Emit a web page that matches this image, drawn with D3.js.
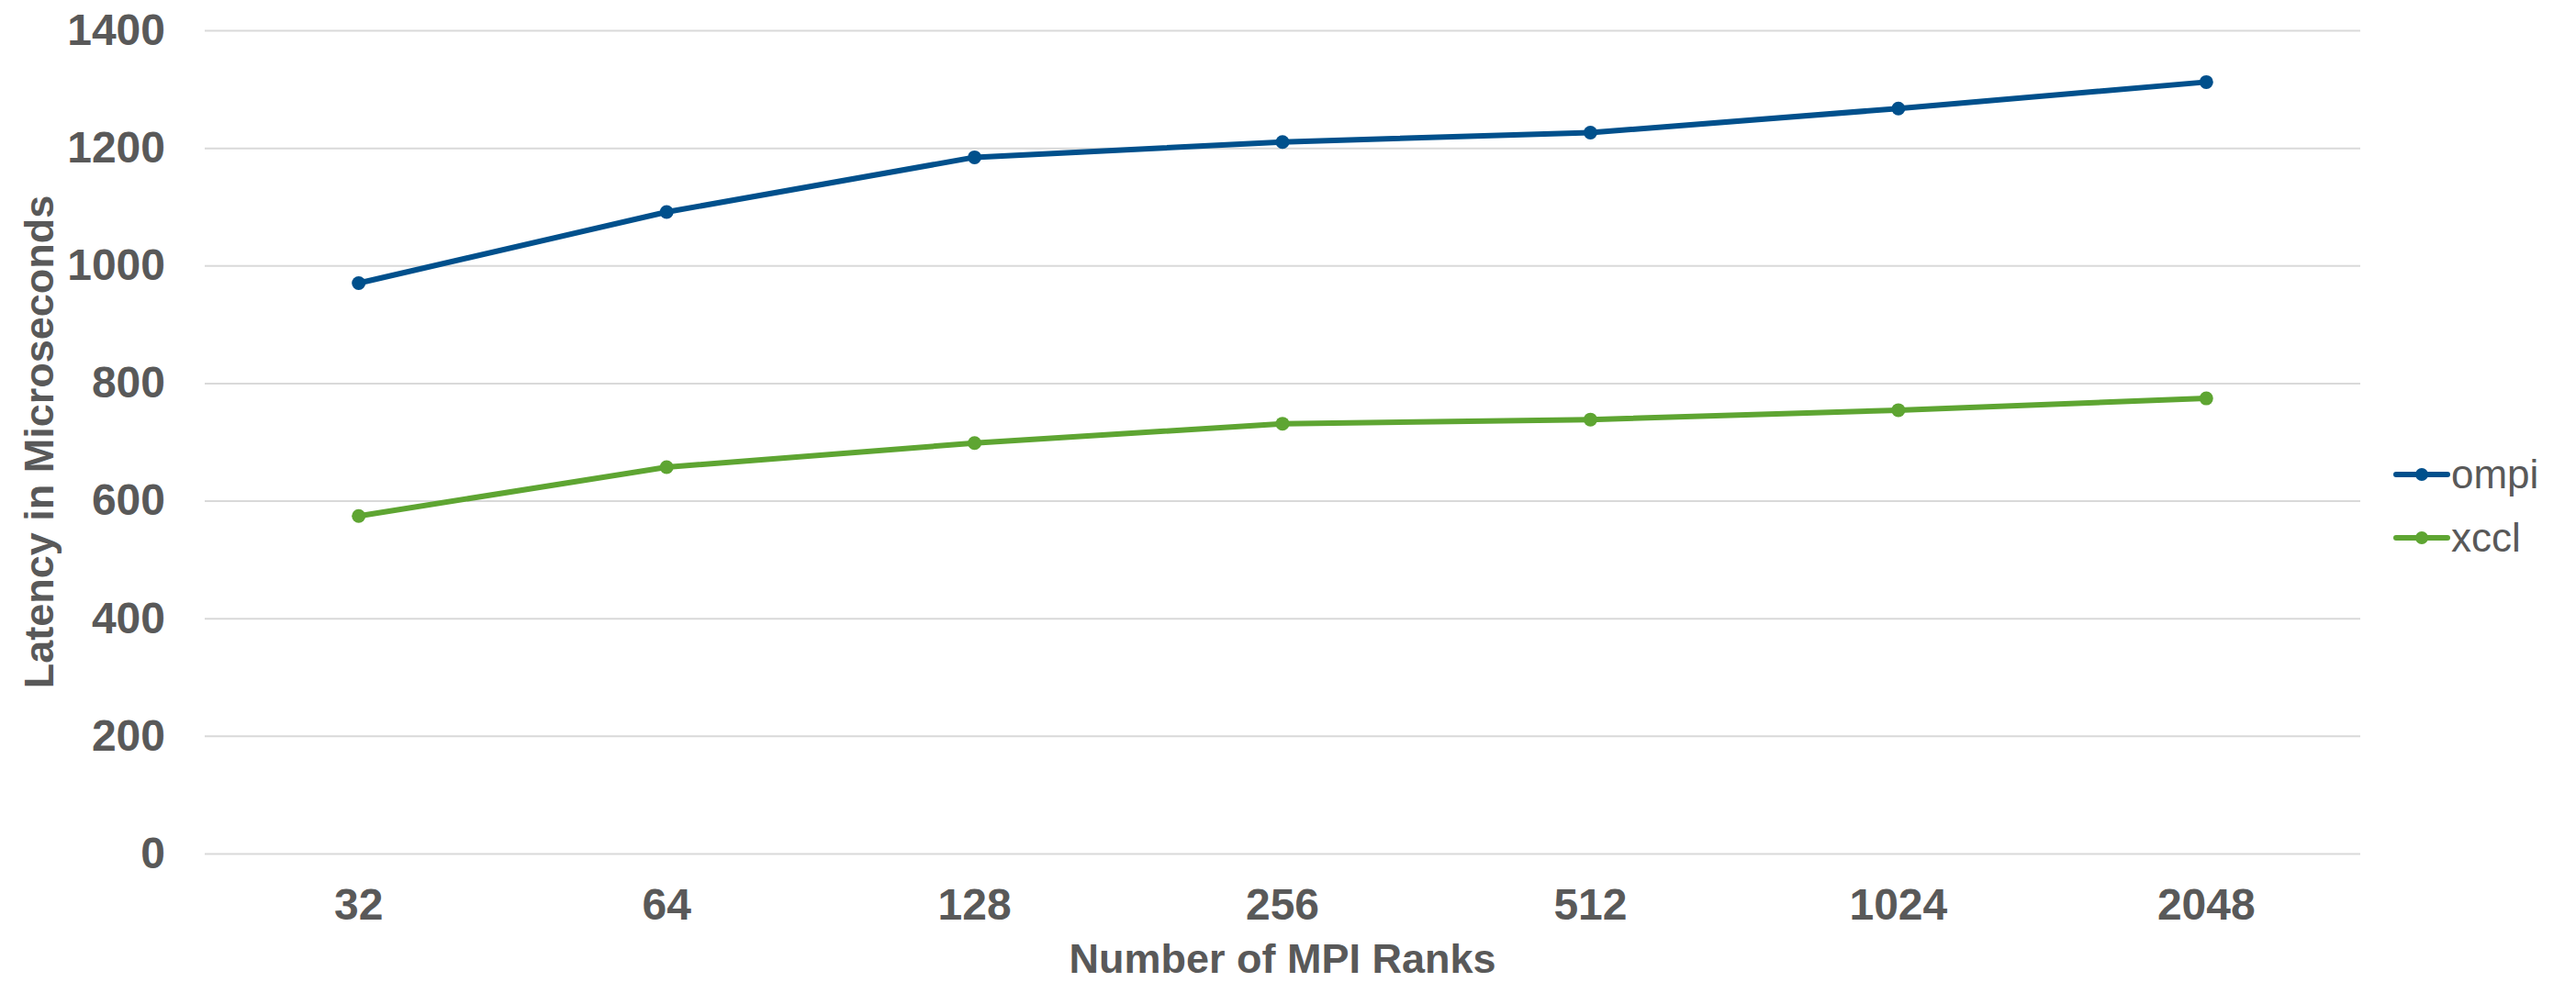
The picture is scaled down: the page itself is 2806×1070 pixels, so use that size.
<!DOCTYPE html>
<html>
<head>
<meta charset="utf-8">
<script src="https://cdn.jsdelivr.net/npm/d3@7"></script>
<style>
  html, body { margin: 0; padding: 0; background: #ffffff; }
  svg { display: block; font-family: "Liberation Sans", Arial, sans-serif; }
</style>
</head>
<body>
<script>
// MPI rank counts on the x axis
const ranks = ["32", "64", "128", "256", "512", "1024", "2048"];
// Latency (microseconds) per rank count
const ompi = [970, 1091, 1184, 1210, 1226, 1267, 1312];
const xccl = [574, 657, 698, 731, 738, 754, 774];
const seriesNames = ["ompi", "xccl"];
const seriesColors = ["#00508c", "#5ea532"];
const yTicks = [0, 200, 400, 600, 800, 1000, 1200, 1400];

const W = 2806, H = 1070;
const plot = { left: 223, right: 2571, top: 33, bottom: 930 };

const svg = d3.select("body").append("svg")
  .attr("width", W).attr("height", H);

const x = d3.scaleBand().domain(ranks).range([plot.left, plot.right]);
const y = d3.scaleLinear().domain([0, 1400]).range([plot.bottom, plot.top]);

// Horizontal gridlines
svg.append("g")
  .attr("transform", `translate(${plot.left},0)`)
  .call(d3.axisLeft(y).tickValues(yTicks).tickSize(-(plot.right - plot.left)).tickFormat(""))
  .call(g => g.select(".domain").remove())
  .call(g => g.selectAll("line").attr("stroke", "#d9d9d9").attr("stroke-width", 2));

// Y tick labels
svg.append("g")
  .attr("transform", `translate(${plot.left},0)`)
  .call(d3.axisLeft(y).tickValues(yTicks).tickSize(0).tickPadding(43).tickFormat(d3.format("d")))
  .call(g => g.select(".domain").remove())
  .call(g => g.selectAll("text")
    .attr("fill", "#595959").attr("font-size", 48).attr("font-weight", "bold")
    .attr("font-family", "'Liberation Sans', Arial, sans-serif"));

// X tick labels
svg.append("g")
  .attr("transform", `translate(0,${plot.bottom})`)
  .call(d3.axisBottom(x).tickSize(0).tickPadding(38))
  .call(g => g.select(".domain").remove())
  .call(g => g.selectAll("text")
    .attr("fill", "#595959").attr("font-size", 48).attr("font-weight", "bold")
    .attr("font-family", "'Liberation Sans', Arial, sans-serif"));

// Axis titles
svg.append("text")
  .attr("x", (plot.left + plot.right) / 2).attr("y", 1060)
  .attr("text-anchor", "middle")
  .attr("fill", "#595959").attr("font-size", 45).attr("font-weight", "bold")
  .text("Number of MPI Ranks");

svg.append("text")
  .attr("transform", `translate(58,${(plot.top + plot.bottom) / 2}) rotate(-90)`)
  .attr("text-anchor", "middle")
  .attr("fill", "#595959").attr("font-size", 45).attr("font-weight", "bold")
  .text("Latency in Microseconds");

// Series lines and markers
const data = [ompi, xccl];
const line = d3.line()
  .x((d, i) => x(ranks[i]) + x.bandwidth() / 2)
  .y(d => y(d));

data.forEach((vals, si) => {
  svg.append("path")
    .datum(vals)
    .attr("d", line)
    .attr("fill", "none")
    .attr("stroke", seriesColors[si])
    .attr("stroke-width", 6)
    .attr("stroke-linejoin", "round");
  svg.append("g").selectAll("circle")
    .data(vals)
    .join("circle")
    .attr("cx", (d, i) => x(ranks[i]) + x.bandwidth() / 2)
    .attr("cy", d => y(d))
    .attr("r", 7.5)
    .attr("fill", seriesColors[si]);
});

// Legend
const legend = svg.append("g");
seriesNames.forEach((name, i) => {
  const ly = 517 + i * 69;
  legend.append("line")
    .attr("x1", 2610).attr("x2", 2666).attr("y1", ly).attr("y2", ly)
    .attr("stroke", seriesColors[i]).attr("stroke-width", 6).attr("stroke-linecap", "round");
  legend.append("circle")
    .attr("cx", 2638).attr("cy", ly).attr("r", 7).attr("fill", seriesColors[i]);
  legend.append("text")
    .attr("x", 2670).attr("y", ly + 15)
    .attr("fill", "#595959").attr("font-size", 44)
    .text(name);
});
</script>
</body>
</html>
